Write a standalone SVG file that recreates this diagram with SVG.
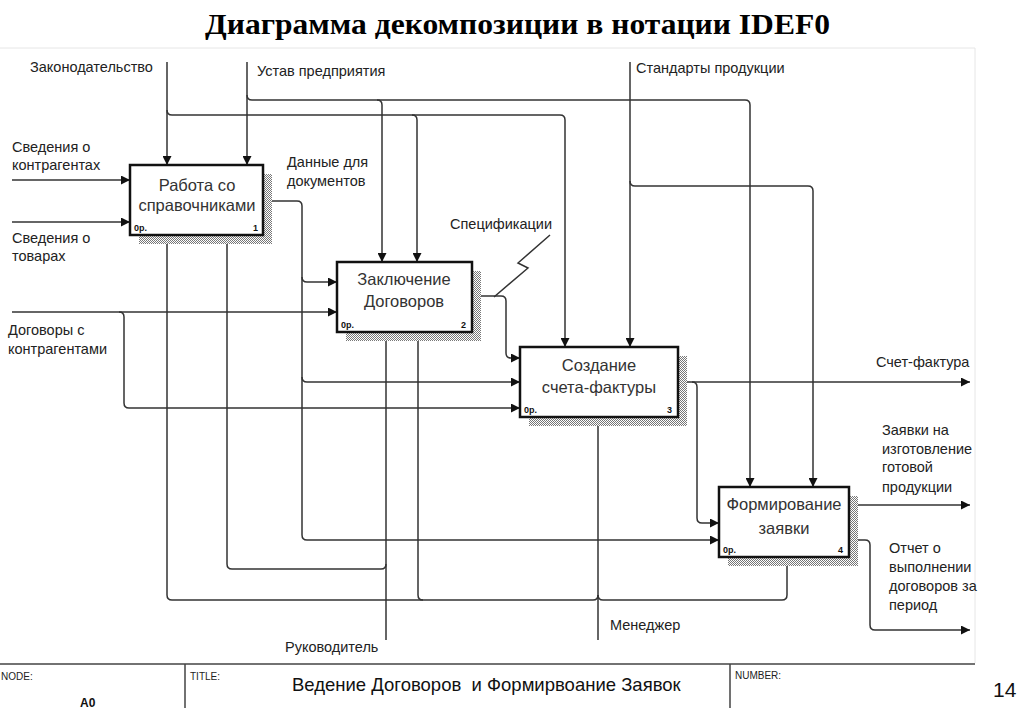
<svg xmlns="http://www.w3.org/2000/svg" width="1024" height="708" viewBox="0 0 1024 708">
<defs>
<pattern id="hatch" width="2" height="2" patternUnits="userSpaceOnUse">
<rect width="2" height="2" fill="#fff"/>
<rect x="0" y="0" width="1" height="1" fill="#777"/>
<rect x="1" y="1" width="1" height="1" fill="#777"/>
</pattern>
<marker id="arr" viewBox="0 0 10 10" refX="10" refY="5" markerWidth="11" markerHeight="9" markerUnits="userSpaceOnUse" orient="auto">
<path d="M0,0 L10,5 L0,10 z" fill="#111"/>
</marker>
</defs>
<style>
.t{font-family:"Liberation Sans",Arial,sans-serif;font-size:14.5px;fill:#222}
.bt{font-family:"Liberation Sans",Arial,sans-serif;font-size:16.5px;fill:#333;text-anchor:middle}
.sm{font-family:"Liberation Sans",Arial,sans-serif;font-size:9px;fill:#111;font-weight:bold}
.box{fill:#fff;stroke:#111;stroke-width:2.5}
.sh{fill:url(#hatch)}
.c path{fill:none;stroke:#333;stroke-width:1.5}
.a{marker-end:url(#arr)}
.fr{font-family:"Liberation Sans",Arial,sans-serif;font-size:10px;fill:#222}
</style>
<rect width="1024" height="708" fill="#fff"/>
<text x="205" y="34" textLength="625" lengthAdjust="spacingAndGlyphs" font-family="Liberation Serif,Times New Roman,serif" font-weight="bold" font-size="30" fill="#000">Диаграмма декомпозиции в нотации IDEF0</text>
<path d="M0,48 H975 V663" fill="none" stroke="#e6e6e6" stroke-width="1"/>

<g id="connectors" class="c">
<path class="a" d="M167,62 V165"/>
<path class="a" d="M167,110 Q167,115 172,115 H560 Q565,115 565,120 V347"/>
<path class="a" d="M412,115 Q417,115 417,120 V262"/>
<path class="a" d="M247,62 V165"/>
<path class="a" d="M247,95 Q247,100 252,100 H745 Q750,100 750,105 V487"/>
<path class="a" d="M377,100 Q382,100 382,105 V262"/>
<path class="a" d="M630,62 V347"/>
<path class="a" d="M630,181 Q630,186 635,186 H808 Q813,186 813,191 V487"/>
<path class="a" d="M12,180 H130"/>
<path class="a" d="M12,222 H130"/>
<path class="a" d="M12,312 H337"/>
<path class="a" d="M119,312 Q124,312 124,317 V403 Q124,408 129,408 H520"/>
<path class="a" d="M263,201 H297 Q302,201 302,206 V535 Q302,540 307,540 H719"/>
<path class="a" d="M302,277 Q302,282 307,282 H337"/>
<path class="a" d="M302,377 Q302,382 307,382 H520"/>
<path class="a" d="M472,296 H501 Q506,296 506,301 V353 Q506,358 511,358 H520"/>
<path class="a" d="M678,382 H970"/>
<path class="a" d="M692,382 Q697,382 697,387 V518 Q697,523 702,523 H719"/>
<path class="a" d="M849,505 H970"/>
<path class="a" d="M849,540 H865 Q870,540 870,545 V625 Q870,630 875,630 H970"/>
<path class="a" d="M386,640 V332"/>
<path class="a" d="M386,564 Q386,569 381,569 H232 Q227,569 227,564 V235"/>
<path class="a" d="M598,640 V417"/>
<path class="a" d="M598,595 Q598,600 593,600 H172 Q167,600 167,595 V235"/>
<path class="a" d="M423,600 Q418,600 418,595 V332"/>
<path class="a" d="M598,595 Q598,600 603,600 H782 Q787,600 787,595 V557"/>
<path d="M550,235 L518,263 L528,268 L494,297"/>
</g>

<g id="node1">
<rect class="sh" x="139" y="174" width="133" height="70"/>
<rect class="box" x="130" y="165" width="133" height="70"/>
<text class="bt" x="197" y="191">Работа со</text>
<text class="bt" x="197" y="211">справочниками</text>
<text class="sm" x="134" y="231">0р.</text>
<text class="sm" x="253" y="231">1</text>
</g>
<g id="node2">
<rect class="sh" x="346" y="271" width="135" height="70"/>
<rect class="box" x="337" y="262" width="135" height="70"/>
<text class="bt" x="404" y="285">Заключение</text>
<text class="bt" x="404" y="307">Договоров</text>
<text class="sm" x="341" y="328">0р.</text>
<text class="sm" x="461" y="328">2</text>
</g>
<g id="node3">
<rect class="sh" x="529" y="356" width="158" height="70"/>
<rect class="box" x="520" y="347" width="158" height="70"/>
<text class="bt" x="599" y="371">Создание</text>
<text class="bt" x="599" y="393">счета-фактуры</text>
<text class="sm" x="524" y="413">0р.</text>
<text class="sm" x="667" y="413">3</text>
</g>
<g id="node4">
<rect class="sh" x="728" y="496" width="130" height="70"/>
<rect class="box" x="719" y="487" width="130" height="70"/>
<text class="bt" x="784" y="510">Формирование</text>
<text class="bt" x="784" y="534">заявки</text>
<text class="sm" x="723" y="553">0р.</text>
<text class="sm" x="838" y="553">4</text>
</g>

<g id="labels">
<text class="t" x="30" y="72">Законодательство</text>
<text class="t" x="257" y="76">Устав предприятия</text>
<text class="t" x="636" y="73">Стандарты продукции</text>
<text class="t" x="12" y="152">Сведения о</text>
<text class="t" x="12" y="170">контрагентах</text>
<text class="t" x="287" y="167">Данные для</text>
<text class="t" x="287" y="186">документов</text>
<text class="t" x="12" y="243">Сведения о</text>
<text class="t" x="12" y="261">товарах</text>
<text class="t" x="450" y="229">Спецификации</text>
<text class="t" x="8" y="335">Договоры с</text>
<text class="t" x="8" y="354">контрагентами</text>
<text class="t" x="876" y="367">Счет-фактура</text>
<text class="t" x="882" y="435">Заявки на</text>
<text class="t" x="882" y="454">изготовление</text>
<text class="t" x="882" y="472">готовой</text>
<text class="t" x="882" y="492">продукции</text>
<text class="t" x="889" y="553">Отчет о</text>
<text class="t" x="889" y="572">выполнении</text>
<text class="t" x="889" y="591">договоров за</text>
<text class="t" x="889" y="610">период</text>
<text class="t" x="285" y="652">Руководитель</text>
<text class="t" x="610" y="630">Менеджер</text>
</g>

<g id="frame">
<path d="M0,664 H975 M185,664 V708 M730,664 V708" fill="none" stroke="#444" stroke-width="1.5"/>
<text class="fr" x="1" y="680">NODE:</text>
<text class="fr" x="190" y="680">TITLE:</text>
<text class="fr" x="735" y="679">NUMBER:</text>
<text x="292" y="691" xml:space="preserve" font-family="Liberation Sans,Arial,sans-serif" font-size="18.5" fill="#111">Ведение Договоров  и Формирвоание Заявок</text>
<text x="80" y="707" font-family="Liberation Sans,Arial,sans-serif" font-size="12" font-weight="bold" fill="#111">A0</text>
</g>
<text x="993" y="697" font-family="Liberation Sans,Arial,sans-serif" font-size="21" fill="#111">14</text>
</svg>
